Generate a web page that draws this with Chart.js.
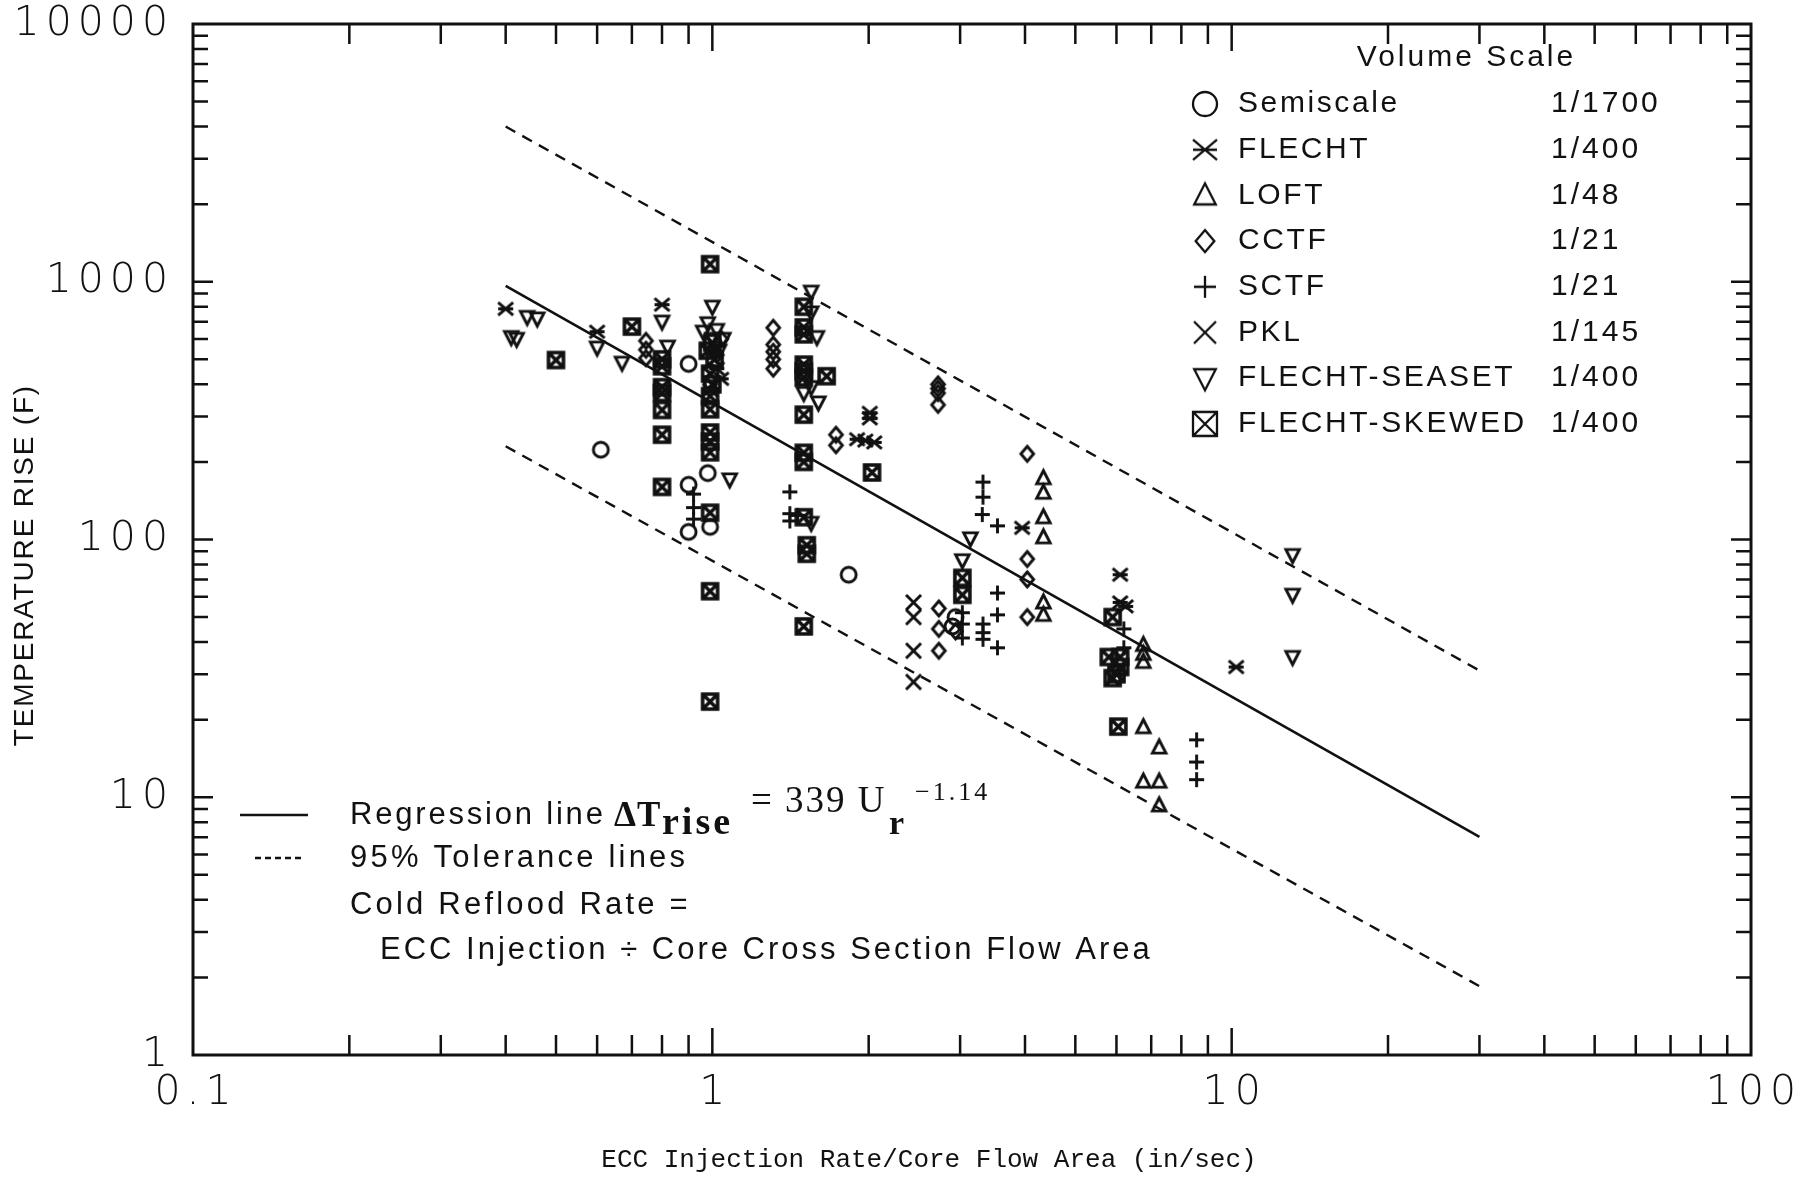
<!DOCTYPE html>
<html>
<head>
<meta charset="utf-8">
<title>Temperature rise vs ECC injection rate</title>
<script src="https://cdn.jsdelivr.net/npm/chart.js@4.4.1/dist/chart.umd.min.js"></script>
<style>
  html, body { margin: 0; padding: 0; background: #fff; }
  canvas { display: block; }
</style>
</head>
<body>
<canvas id="grafica" width="1804" height="1177"></canvas>
<script>
// ECC injection rate (in/sec) vs temperature rise (F), one array per facility
var semiscale = [[0.61, 223], [0.90, 480], [0.90, 163], [0.90, 107], [0.98, 181], [0.99, 112],
    [1.83, 73], [2.94, 50], [2.90, 46]];
var flecht = [[0.40, 785], [0.60, 640], [0.80, 815], [1.02, 460], [1.04, 420], [0.99, 380],
    [2.01, 310], [2.01, 295], [1.90, 245], [1.97, 242], [2.05, 238], [3.95, 111],
    [6.1, 73], [6.1, 57], [6.25, 55], [10.2, 32]];
var loft = [[4.34, 173], [4.34, 152], [4.34, 122], [4.34, 102], [4.34, 57], [4.34, 51],
    [6.76, 39], [6.76, 36], [6.76, 33.5], [6.76, 18.7], [7.25, 15.6], [6.76, 11.5],
    [7.25, 11.5], [7.25, 9.3]];
var cctf = [[0.745, 590], [0.745, 545], [0.745, 505], [1.04, 600], [1.02, 520], [1.31, 663],
    [1.31, 570], [1.31, 535], [1.31, 500], [1.31, 460], [1.73, 255], [1.73, 232],
    [2.72, 400], [2.72, 385], [2.72, 370], [2.72, 333], [2.73, 54], [2.73, 45], [2.73, 37],
    [2.94, 44], [4.04, 215], [4.04, 84], [4.04, 70], [4.04, 50]];
var sctf = [[0.92, 150], [0.92, 133], [0.92, 120], [1.41, 153], [1.41, 126], [1.46, 124],
    [1.41, 118], [3.03, 52], [3.03, 47], [3.03, 41.5], [3.32, 167], [3.32, 146], [3.31, 125],
    [3.32, 47], [3.32, 43.5], [3.32, 41], [3.54, 113], [3.54, 62], [3.54, 51], [3.54, 38],
    [6.2, 45], [6.2, 38], [8.56, 16.7], [8.56, 13.7], [8.56, 11.7]];
var pkl = [[2.44, 57], [2.44, 50], [2.44, 37], [2.44, 28]];
var seaset = [[0.44, 730], [0.46, 720], [0.41, 610], [0.42, 600], [0.60, 555], [0.67, 485],
    [0.80, 700], [0.82, 560], [1.0, 800], [0.98, 690], [1.02, 650], [0.96, 640], [1.05, 600],
    [1.0, 600], [1.03, 540], [1.08, 171], [1.55, 915], [1.55, 760], [1.59, 610], [1.5, 370],
    [1.55, 390], [1.6, 340], [1.55, 116], [3.14, 101], [3.03, 83], [13.1, 87], [13.1, 61],
    [13.1, 35]];
var skewed = [[0.50, 497], [0.70, 670], [0.80, 500], [0.80, 470], [0.80, 390], [0.80, 370],
    [0.80, 318], [0.80, 255], [0.80, 160], [0.99, 1170], [1.0, 580], [0.98, 540], [1.01, 500],
    [0.99, 440], [1.0, 400], [0.99, 360], [0.99, 320], [0.99, 260], [0.99, 240], [0.99, 218],
    [0.99, 127], [0.99, 63], [0.99, 23.5], [1.5, 800], [1.5, 665], [1.5, 625], [1.5, 477],
    [1.5, 450], [1.5, 425], [1.66, 430], [1.5, 305], [1.5, 217], [1.5, 200], [1.5, 122],
    [1.52, 95], [1.52, 88], [1.5, 46], [2.03, 182], [3.03, 71], [3.03, 61], [5.9, 50],
    [5.8, 35], [6.1, 35], [6.1, 32], [5.9, 29], [6.0, 30], [6.05, 18.8]];

// regression dT = 339 * U^-1.14 and the 95% tolerance band
var regCoef = 339;
var regExp = -1.14;
var regRange = [0.4, 30];
var upperBand = [[0.4, 4000], [30, 31]];
var lowerBand = [[0.4, 230], [30, 1.85]];

var legendNames = ['Semiscale', 'FLECHT', 'LOFT', 'CCTF', 'SCTF', 'PKL', 'FLECHT-SEASET', 'FLECHT-SKEWED'];
var legendScales = ['1/1700', '1/400', '1/48', '1/21', '1/21', '1/145', '1/400', '1/400'];
var symbolKinds = ['circle', 'asterisk', 'triUp', 'diamond', 'plus', 'cross', 'triDown', 'boxX'];

var xDecades = [0.1, 1, 10, 100];
var yDecades = [1, 10, 100, 1000, 10000];
var xTickLabels = ['0.1', '1', '10', '100'];
var yTickLabels = ['1', '10', '100', '1000', '10000'];

var ink = '#111';

function makeSymbol(kind, size, lw) {
    var pad = Math.ceil(lw) + 2;
    var c = document.createElement('canvas');
    c.width = c.height = size + pad * 2;
    var g = c.getContext('2d');
    var m = c.width / 2, r = size / 2;
    g.strokeStyle = ink;
    g.lineWidth = lw;
    g.lineJoin = 'miter';
    g.beginPath();
    if (kind === 'circle') {
        g.arc(m, m, r, 0, Math.PI * 2);
    } else if (kind === 'asterisk') {
        g.moveTo(m - r, m - r * 0.85); g.lineTo(m + r, m + r * 0.85);
        g.moveTo(m + r, m - r * 0.85); g.lineTo(m - r, m + r * 0.85);
        g.moveTo(m - r, m); g.lineTo(m + r, m);
    } else if (kind === 'triUp') {
        g.moveTo(m, m - r); g.lineTo(m + r * 0.9, m + r * 0.75); g.lineTo(m - r * 0.9, m + r * 0.75);
        g.closePath();
    } else if (kind === 'triDown') {
        g.moveTo(m, m + r); g.lineTo(m + r * 0.9, m - r * 0.75); g.lineTo(m - r * 0.9, m - r * 0.75);
        g.closePath();
    } else if (kind === 'diamond') {
        g.moveTo(m, m - r); g.lineTo(m + r * 0.85, m); g.lineTo(m, m + r); g.lineTo(m - r * 0.85, m);
        g.closePath();
    } else if (kind === 'plus') {
        g.moveTo(m, m - r); g.lineTo(m, m + r);
        g.moveTo(m - r, m); g.lineTo(m + r, m);
    } else if (kind === 'cross') {
        g.moveTo(m - r, m - r); g.lineTo(m + r, m + r);
        g.moveTo(m + r, m - r); g.lineTo(m - r, m + r);
    } else if (kind === 'boxX') {
        g.rect(m - r, m - r, size, size);
        g.moveTo(m - r, m - r); g.lineTo(m + r, m + r);
        g.moveTo(m + r, m - r); g.lineTo(m - r, m + r);
    }
    g.stroke();
    return c;
}

var markSymbols = symbolKinds.map(function (k) {
    return k === 'boxX' ? makeSymbol(k, 15, 3.6) : makeSymbol(k, 15, 2.9);
});
var legendSymbols = symbolKinds.map(function (k) {
    return makeSymbol(k, k === 'diamond' || k === 'plus' || k === 'cross' ? 22 : 24, 2.3);
});

function toPoints(arr) {
    return arr.map(function (p) { return { x: p[0], y: p[1] }; });
}

var seriesData = [semiscale, flecht, loft, cctf, sctf, pkl, seaset, skewed];

var datasets = [
    {
        type: 'line',
        data: regRange.map(function (u) { return { x: u, y: regCoef * Math.pow(u, regExp) }; }),
        borderColor: ink, borderWidth: 2.6, pointRadius: 0, fill: false
    },
    {
        type: 'line', data: toPoints(upperBand),
        borderColor: ink, borderWidth: 2.4, borderDash: [11, 8], pointRadius: 0, fill: false
    },
    {
        type: 'line', data: toPoints(lowerBand),
        borderColor: ink, borderWidth: 2.4, borderDash: [11, 8], pointRadius: 0, fill: false
    }
];
seriesData.forEach(function (arr, i) {
    datasets.push({
        label: legendNames[i],
        data: toPoints(arr),
        pointStyle: markSymbols[i],
        pointRadius: 8,
        showLine: false
    });
});

function decadeTicks(decades) {
    var vals = [];
    for (var d = 0; d < decades.length - 1; d++) {
        for (var k = 1; k <= 9; k++) {
            vals.push({ v: decades[d] * k, major: k === 1 });
        }
    }
    vals.push({ v: decades[decades.length - 1], major: true });
    return vals;
}

function spaced(ctx, s, x, y, font, align, ls) {
    ctx.font = font;
    ctx.letterSpacing = ls + 'px';
    ctx.textAlign = align;
    var dx = align === 'right' ? ls : (align === 'center' ? ls / 2 : 0);
    ctx.fillText(s, x + dx, y);
}

var marcoYTextos = {
    id: 'marcoYTextos',
    afterDraw: function (chart) {
        var ctx = chart.ctx;
        var a = chart.chartArea;
        var sx = chart.scales.x, sy = chart.scales.y;
        ctx.save();
        ctx.strokeStyle = ink;
        ctx.fillStyle = ink;

        // frame
        ctx.lineWidth = 3;
        ctx.strokeRect(a.left, a.top, a.right - a.left, a.bottom - a.top);

        // inward ticks on all four sides
        ctx.lineWidth = 2.5;
        ctx.beginPath();
        decadeTicks(xDecades).forEach(function (t) {
            var px = sx.getPixelForValue(t.v);
            if (px <= a.left + 1 || px >= a.right - 1) return;
            var len = t.major ? 27 : 20;
            ctx.moveTo(px, a.bottom); ctx.lineTo(px, a.bottom - len);
            ctx.moveTo(px, a.top); ctx.lineTo(px, a.top + len);
        });
        decadeTicks(yDecades).forEach(function (t) {
            var py = sy.getPixelForValue(t.v);
            if (py <= a.top + 1 || py >= a.bottom - 1) return;
            var len = t.major ? 20 : 15;
            ctx.moveTo(a.left, py); ctx.lineTo(a.left + len, py);
            ctx.moveTo(a.right, py); ctx.lineTo(a.right - len, py);
        });
        ctx.stroke();

        // tick labels
        ctx.textBaseline = 'middle';
        var tickFont = '300 41px "DejaVu Sans"';
        xDecades.forEach(function (v, i) {
            spaced(ctx, xTickLabels[i], sx.getPixelForValue(v), a.bottom + 38, tickFont, 'center', 6);
        });
        yDecades.forEach(function (v, i) {
            spaced(ctx, yTickLabels[i], a.left - 25, sy.getPixelForValue(v), tickFont, 'right', 6);
        });

        // axis titles
        spaced(ctx, 'ECC Injection Rate/Core Flow Area (in/sec)', 929, 1160, '26px "Liberation Mono"', 'center', 0);
        ctx.save();
        ctx.translate(25, 566);
        ctx.rotate(-Math.PI / 2);
        spaced(ctx, 'TEMPERATURE RISE (F)', 0, 0, '28px "Liberation Sans"', 'center', 1.8);
        ctx.restore();

        // facility legend, top right
        var lf = '30px "Liberation Sans"';
        spaced(ctx, 'Volume Scale', 1465, 58, lf, 'center', 3);
        legendNames.forEach(function (name, i) {
            var yy = 104 + i * 45.7;
            var s = legendSymbols[i];
            ctx.drawImage(s, 1205 - s.width / 2, yy - s.height / 2);
            spaced(ctx, name, 1238, yy, lf, 'left', 2.6);
            spaced(ctx, legendScales[i], 1551, yy, lf, 'left', 3);
        });

        // line key and definition, bottom left
        ctx.lineWidth = 2.4;
        ctx.beginPath();
        ctx.moveTo(240, 815); ctx.lineTo(308, 815);
        ctx.stroke();
        ctx.setLineDash([6, 4]);
        ctx.beginPath();
        ctx.moveTo(255, 858); ctx.lineTo(303, 858);
        ctx.stroke();
        ctx.setLineDash([]);
        var af = '31px "Liberation Sans"';
        spaced(ctx, 'Regression line', 350, 815, af, 'left', 2.8);
        spaced(ctx, '95% Tolerance lines', 350, 858, af, 'left', 3.2);
        spaced(ctx, 'Cold Reflood Rate =', 350, 905, af, 'left', 3.2);
        spaced(ctx, 'ECC Injection \u00f7 Core Cross Section Flow Area', 380, 950, af, 'left', 3);

        // formula dT_rise = 339 U_r^-1.14
        ctx.textBaseline = 'alphabetic';
        spaced(ctx, '\u0394T', 614, 826, 'bold 35px "Liberation Serif"', 'left', 1);
        spaced(ctx, 'rise', 662, 834, 'bold 38px "Liberation Serif"', 'left', 3);
        spaced(ctx, '= 339 U', 751, 812, '37px "Liberation Serif"', 'left', 2);
        spaced(ctx, 'r', 889, 834, 'bold 34px "Liberation Serif"', 'left', 0);
        spaced(ctx, '\u22121.14', 915, 800, '26px "Liberation Serif"', 'left', 3);

        ctx.restore();
    }
};

var ctx = document.getElementById('grafica').getContext('2d');
var grafica = new Chart(ctx, {
    type: 'scatter',
    data: { datasets: datasets },
    options: {
        responsive: false,
        animation: false,
        devicePixelRatio: 1,
        layout: { padding: { left: 185, top: 24, right: 53, bottom: 114 } },
        plugins: {
            legend: { display: false },
            tooltip: { enabled: false }
        },
        scales: {
            x: {
                type: 'logarithmic', min: 0.1, max: 100,
                grid: { display: false }, border: { display: false },
                ticks: { display: false }
            },
            y: {
                type: 'logarithmic', min: 1, max: 10000,
                grid: { display: false }, border: { display: false },
                ticks: { display: false }
            }
        }
    },
    plugins: [marcoYTextos]
});
</script>
</body>
</html>
